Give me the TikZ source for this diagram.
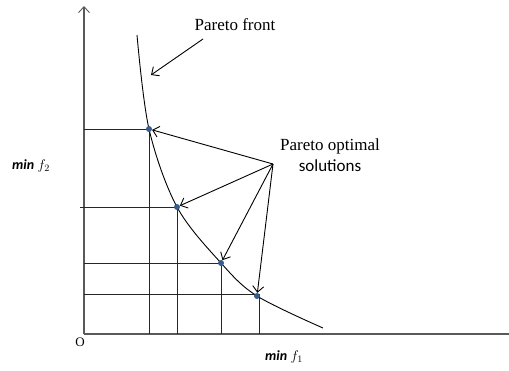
\documentclass[tikz,border=0pt]{standalone}
\usepackage{amsmath, amssymb}
\usepackage{fix-cm}
\usepackage{fontspec}
\setmainfont{Liberation Serif}
\newfontfamily\carlito{Carlito}
\usepackage{xcolor}
\usepackage{tikz}
\usetikzlibrary{calc, positioning, arrows.meta}

\definecolor{xanhdiem}{RGB}{52,92,140}

\begin{document}
\begin{tikzpicture}[x=1pt, y=-1pt,
    >={Straight Barb[length=6pt, width=11pt, line width=0.9pt]},
    truc/.style={draw=black!65, line width=1.6pt},
    luoi/.style={draw=black!85, line width=0.95pt},
    diem/.style={circle, fill=xanhdiem, inner sep=0pt, minimum size=6pt},
    chu/.style={font=\fontsize{17}{21}\selectfont},
    nhan/.style={font=\fontsize{14}{16}\selectfont}]
    \useasboundingbox (0,0) rectangle (509,370);

    % Hệ trục tọa độ
    \coordinate (O) at (84,334);
    \coordinate (ytop) at (84,6);
    \coordinate (xend) at (509,334);
    \draw[truc, ->] (O) -- (ytop);
    \draw[truc] (O) -- (xend);
    \node[nhan, font=\fontsize{13}{15}\selectfont] (Olbl) at (80,342) {O};
    \node[nhan] (f1) at (284,357) {{\carlito\bfseries\itshape min} $f_1$};
    \node[nhan] (f2) at (31,166) {{\carlito\bfseries\itshape min} $f_2$};

    % Các điểm Pareto
    \coordinate (c1) at (149,129);
    \coordinate (c2) at (177,207);
    \coordinate (c3) at (221,263);
    \coordinate (c4) at (257,296);

    % Đường lưới
    \draw[luoi] (c1 -| O) -- (c1) -- (c1 |- O);
    \draw[luoi] ([xshift=-4pt]c2 -| O) -- (c2) -- (c2 |- O);
    \draw[luoi] (c3 -| O) -- (c3) -- (c3 |- O);
    \draw[luoi] ([yshift=2pt]c4 -| O) -- ([xshift=2pt, yshift=2pt]c4) -- ([xshift=2pt]c4 |- O);

    % Mặt Pareto
    \draw[line width=0.9pt] plot[smooth, tension=0.55]
        coordinates {(137,35) (c1) (c2) (c3) (c4) (323,328)};
    \foreach \i in {1,...,4}
        \node[diem] (p\i) at (c\i) {};

    % Nhãn và mũi tên
    \node[chu] (front) at (235,25) {Pareto front};
    \coordinate (fa) at (203,39);
    \coordinate (fb) at (151,75);
    \draw[->, line width=0.9pt] (fa) -- (fb);

    \node[chu, align=center] (opt) at (330,155) {Pareto optimal\\{\carlito solutions}};
    \coordinate (src) at (273,164);
    \foreach \i in {1,...,4}
        \draw[->, line width=0.9pt] (src) -- (p\i);
\end{tikzpicture}
\end{document}
